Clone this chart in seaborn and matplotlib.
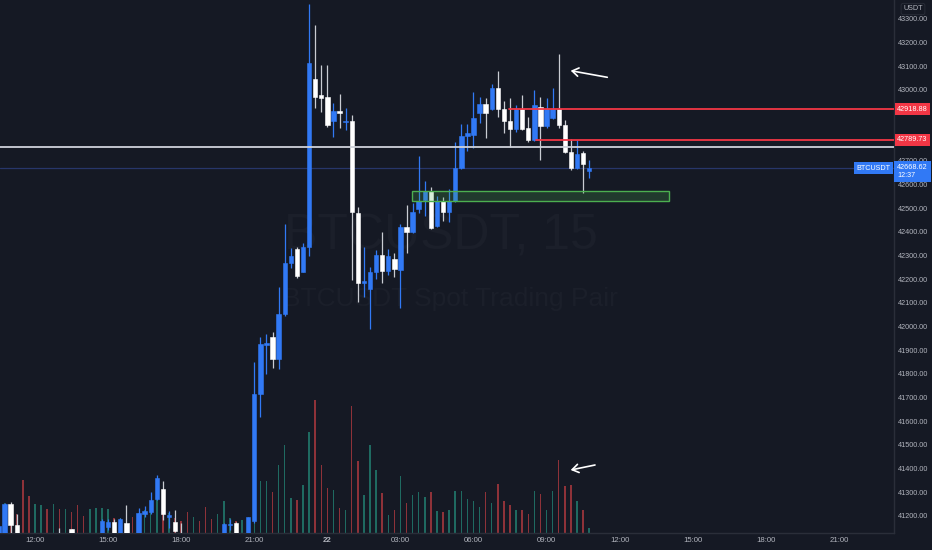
import numpy as np
import pandas as pd
import matplotlib
matplotlib.use("Agg")
import matplotlib.pyplot as plt
import matplotlib.transforms as mtransforms
from matplotlib.patches import Rectangle
import seaborn as sns

# BTCUSDT 15m candles, 21 Jan 10:30 -> 22 Jan 10:45
opens = [41097, 41110, 41249, 41161, 41120, 41060, 41020, 41050, 41075, 41045,
         41115, 41085, 41142, 41100, 41070, 41055, 41080, 41100, 41153, 41175,
         41120, 41170, 41115, 41095, 41207, 41216, 41269, 41313, 41194, 41173,
         41120, 41095, 41070, 41090, 41075, 41045, 41035, 41070, 41159, 41168,
         41115, 41120, 41178, 41713, 41922, 41957, 41861, 42051, 42267, 42326,
         42232, 42337, 43046, 42979, 42969, 42870, 42911, 42865, 42870, 42479,
         42183, 42158, 42230, 42303, 42236, 42285, 42239, 42422, 42398, 42498,
         42535, 42573, 42425, 42532, 42484, 42530, 42669, 42807, 42810, 42901,
         42939, 42918, 43010, 42919, 42869, 42835, 42919, 42840, 42788, 42927,
         42848, 42883, 42919, 42852, 42739, 42671, 42732, 42657]
highs = [41165, 41255, 41258, 41207, 41125, 41080, 41070, 41090, 41085, 41095,
         41148, 41120, 41145, 41110, 41080, 41090, 41115, 41185, 41186, 41186,
         41192, 41244, 41120, 41232, 41242, 41300, 41374, 41345, 41220, 41224,
         41169, 41105, 41100, 41100, 41085, 41060, 41080, 41170, 41188, 41172,
         41126, 41196, 41851, 41955, 41970, 41977, 42167, 42433, 42331, 42337,
         42354, 43363, 43275, 43106, 43106, 42946, 42983, 42922, 42894, 42504,
         42337, 42253, 42323, 42398, 42326, 42309, 42433, 42512, 42521, 42721,
         42616, 42591, 42552, 42549, 42580, 42781, 42854, 42855, 42993, 42972,
         42966, 43024, 43080, 42953, 42965, 42936, 42979, 42886, 43000, 42972,
         42967, 43007, 43151, 42873, 42793, 42788, 42742, 42704]
lows = [41090, 41100, 41128, 41100, 41040, 41000, 41010, 41040, 41030, 41040,
        41070, 41075, 41090, 41055, 41040, 41045, 41070, 41095, 41140, 41105,
        41110, 41105, 41080, 41085, 41193, 41207, 41266, 41182, 41148, 41131,
        41080, 41055, 41060, 41065, 41030, 41020, 41025, 41065, 41140, 41100,
        41100, 41110, 41169, 41617, 41799, 41824, 41820, 42044, 42247, 42205,
        42230, 42298, 42922, 42908, 42842, 42800, 42838, 42831, 42197, 42105,
        42126, 41988, 42199, 42183, 42216, 42208, 42077, 42309, 42395, 42481,
        42467, 42414, 42421, 42447, 42443, 42526, 42666, 42742, 42753, 42859,
        42797, 42915, 42887, 42817, 42760, 42824, 42831, 42781, 42784, 42704,
        42840, 42877, 42840, 42733, 42662, 42666, 42563, 42629]
closes = [41156, 41249, 41161, 41120, 41060, 41020, 41050, 41075, 41045, 41080,
          41085, 41105, 41100, 41070, 41055, 41080, 41100, 41176, 41173, 41120,
          41186, 41115, 41095, 41210, 41221, 41268, 41358, 41209, 41205, 41135,
          41095, 41070, 41090, 41075, 41045, 41035, 41070, 41163, 41166, 41115,
          41125, 41193, 41713, 41924, 41928, 41861, 42054, 42267, 42298, 42213,
          42337, 43115, 42969, 42967, 42852, 42911, 42901, 42869, 42482, 42183,
          42194, 42230, 42301, 42233, 42298, 42242, 42422, 42399, 42484, 42530,
          42573, 42416, 42530, 42484, 42530, 42669, 42807, 42816, 42883, 42939,
          42901, 43010, 42918, 42869, 42835, 42919, 42835, 42788, 42936, 42848,
          42919, 42919, 42852, 42736, 42669, 42729, 42688, 42668.62]
volumes = [200, 300, 250, 193, 526, 366, 293, 283, 243, 293,
           237, 237, 206, 283, 173, 240, 250, 250, 240, 150,
           150, 200, 158, 200, 233, 300, 530, 330, 200, 150,
           116, 210, 156, 123, 263, 143, 190, 316, 153, 120,
           133, 120, 1000, 516, 516, 406, 676, 883, 350, 333,
           483, 1010, 1333, 676, 450, 433, 250, 233, 1273, 723,
           376, 883, 633, 400, 176, 233, 566, 296, 383, 410,
           356, 410, 216, 206, 226, 416, 416, 343, 316, 256,
           410, 296, 493, 316, 276, 233, 233, 190, 423, 393,
           233, 416, 733, 466, 476, 323, 233, 53]

time_labels = ["12:00", "15:00", "18:00", "21:00", "22", "03:00",
               "06:00", "09:00", "12:00", "15:00", "18:00", "21:00"]
price_ticks = [41200, 41300, 41400, 41500, 41600, 41700, 41800, 41900, 42000,
               42100, 42200, 42300, 42400, 42500, 42600, 42700,
               43000, 43100, 43200, 43300]
red_levels = [42918.88, 42789.73]
white_level = 42760
zone_low, zone_high = 42530, 42574
last_price = 42668.62

bg = '#151924'
up_c = '#3179f5'
dn_c = '#ffffff'
text_c = '#b2b5be'
red_c = '#f23645'

times = pd.date_range('2022-01-21 10:30', periods=len(opens), freq='15min')
df = pd.DataFrame({'time': times, 'open': opens, 'high': highs, 'low': lows,
                   'close': closes, 'volume': volumes})
df['pos'] = np.arange(len(df))
df['dir'] = np.where(df['close'] >= df['open'], 'up', 'down')

sns.set_style('dark', {'axes.facecolor': bg, 'figure.facecolor': bg})
plt.rcParams['font.family'] = ['Liberation Sans', 'DejaVu Sans']

fig = plt.figure(figsize=(9.32, 5.5), dpi=100)
fig.set_facecolor(bg)
rect = [0, 17 / 550, 894 / 932, 533 / 550]
axv = fig.add_axes(rect)
ax = fig.add_axes(rect, sharex=axv)
ax.patch.set_visible(False)

# watermark
axv.text(441 / 932, 1 - 237 / 550, 'BTCUSDT, 15', transform=fig.transFigure,
         ha='center', va='center', fontsize=36, color='#1b1f2a', zorder=0)
axv.text(450 / 932, 1 - 299 / 550, 'BTCUSDT Spot Trading Pair', transform=fig.transFigure,
         ha='center', va='center', fontsize=19, color='#1b1f2a', zorder=0)

# volume
sns.barplot(data=df, x='pos', y='volume', hue='dir',
            palette={'up': '#1f6a61', 'down': '#8e3239'},
            native_scale=True, dodge=False, width=0.24, saturation=1,
            errorbar=None, legend=False, ax=axv, edgecolor='none', linewidth=0)
axv.set_ylim(0, 5330)
axv.set_axis_off()

# candles
up = df[df['dir'] == 'up']
dn = df[df['dir'] == 'down']
ax.vlines(up['pos'], up['low'], up['high'], color=up_c, lw=0.9, zorder=3)
ax.vlines(dn['pos'], dn['low'], dn['high'], color='#c9ccd3', lw=0.9, zorder=3)
ax.bar(up['pos'], up['close'] - up['open'], bottom=up['open'], width=0.72,
       color=up_c, edgecolor=up_c, lw=0.4, zorder=4)
ax.bar(dn['pos'], dn['close'] - dn['open'], bottom=dn['open'], width=0.72,
       color=dn_c, edgecolor=dn_c, lw=0.4, zorder=4)

ax.set_xlim(0.25, 147.05)
ax.set_ylim(41126.8, 43380.3)

# levels
ax.axhline(last_price, color='#27366a', lw=0.9, zorder=2)
ax.axhline(white_level, color='#cfd2da', lw=1.3, zorder=5)
for lvl, start in zip(red_levels, [83.8, 88.3]):
    ax.plot([start, 150], [lvl, lvl], color=red_c, lw=1.3, zorder=5)
ax.add_patch(Rectangle((67.85, zone_low), 110.1 - 67.85, zone_high - zone_low,
                       facecolor=(0.30, 0.69, 0.31, 0.22), edgecolor='#4caf50',
                       lw=1.0, zorder=5))

# axes styling
ax.yaxis.tick_right()
ax.set_yticks(price_ticks)
ax.set_yticklabels([f'{p:.2f}' for p in price_ticks])
ax.set_xticks(6 + 12 * np.arange(len(time_labels)))
ax.set_xticklabels(time_labels)
ax.xaxis.get_ticklabels()[4].set_fontweight('bold')
ax.xaxis.get_ticklabels()[4].set_color('#d1d4dc')
ax.tick_params(axis='y', length=0, pad=3, labelsize=5.2, labelcolor=text_c)
ax.tick_params(axis='x', length=0, pad=3, labelsize=5.6, labelcolor=text_c)
ax.grid(False)
for s in ['top', 'left']:
    ax.spines[s].set_visible(False)
for s in ['right', 'bottom']:
    ax.spines[s].set_color('#2a2e39')
    ax.spines[s].set_linewidth(1)
ax.set_xlabel('')
ax.set_ylabel('')

# price scale labels
trans = mtransforms.blended_transform_factory(ax.transAxes, ax.transData)
for lvl in red_levels:
    ax.annotate(f'{lvl:.2f}', xy=(1, lvl), xycoords=trans, xytext=(2.2, 0),
                textcoords='offset points', ha='left', va='center', fontsize=5.2,
                color='white', zorder=10, annotation_clip=False,
                bbox=dict(boxstyle='square,pad=0.35', fc=red_c, ec='none'))
ax.annotate(f'{last_price:.2f}\n12:37', xy=(1, last_price), xycoords=trans,
            xytext=(2.2, 3.0), textcoords='offset points', ha='left', va='top',
            fontsize=5.2, color='white', zorder=10, annotation_clip=False,
            linespacing=1.15,
            bbox=dict(boxstyle='square,pad=0.4', fc=up_c, ec='none'))
ax.annotate('BTCUSDT', xy=(1, last_price), xycoords=trans, xytext=(-2.5, 0),
            textcoords='offset points', ha='right', va='center', fontsize=5.2,
            color='white', zorder=10, annotation_clip=False,
            bbox=dict(boxstyle='square,pad=0.35', fc=up_c, ec='none'))
fig.text(913 / 932, 1 - 9 / 550, 'USDT', ha='center', va='center', fontsize=5.2,
         color=text_c,
         bbox=dict(boxstyle='round,pad=0.3', fc=bg, ec='#2a2e39', lw=0.6))

# arrows
ax.annotate('', xy=(570.7, 479.3), xytext=(607.3, 472.7), xycoords='figure pixels',
            textcoords='figure pixels', zorder=10, annotation_clip=False,
            arrowprops=dict(arrowstyle='->,head_length=0.45,head_width=0.3',
                            color='white', lw=1.2, shrinkA=0, shrinkB=0))
ax.annotate('', xy=(570.7, 80), xytext=(595, 85), xycoords='figure pixels',
            textcoords='figure pixels', zorder=10, annotation_clip=False,
            arrowprops=dict(arrowstyle='->,head_length=0.45,head_width=0.3',
                            color='white', lw=1.2, shrinkA=0, shrinkB=0))

fig.savefig('out.png', dpi=100, facecolor=bg)
